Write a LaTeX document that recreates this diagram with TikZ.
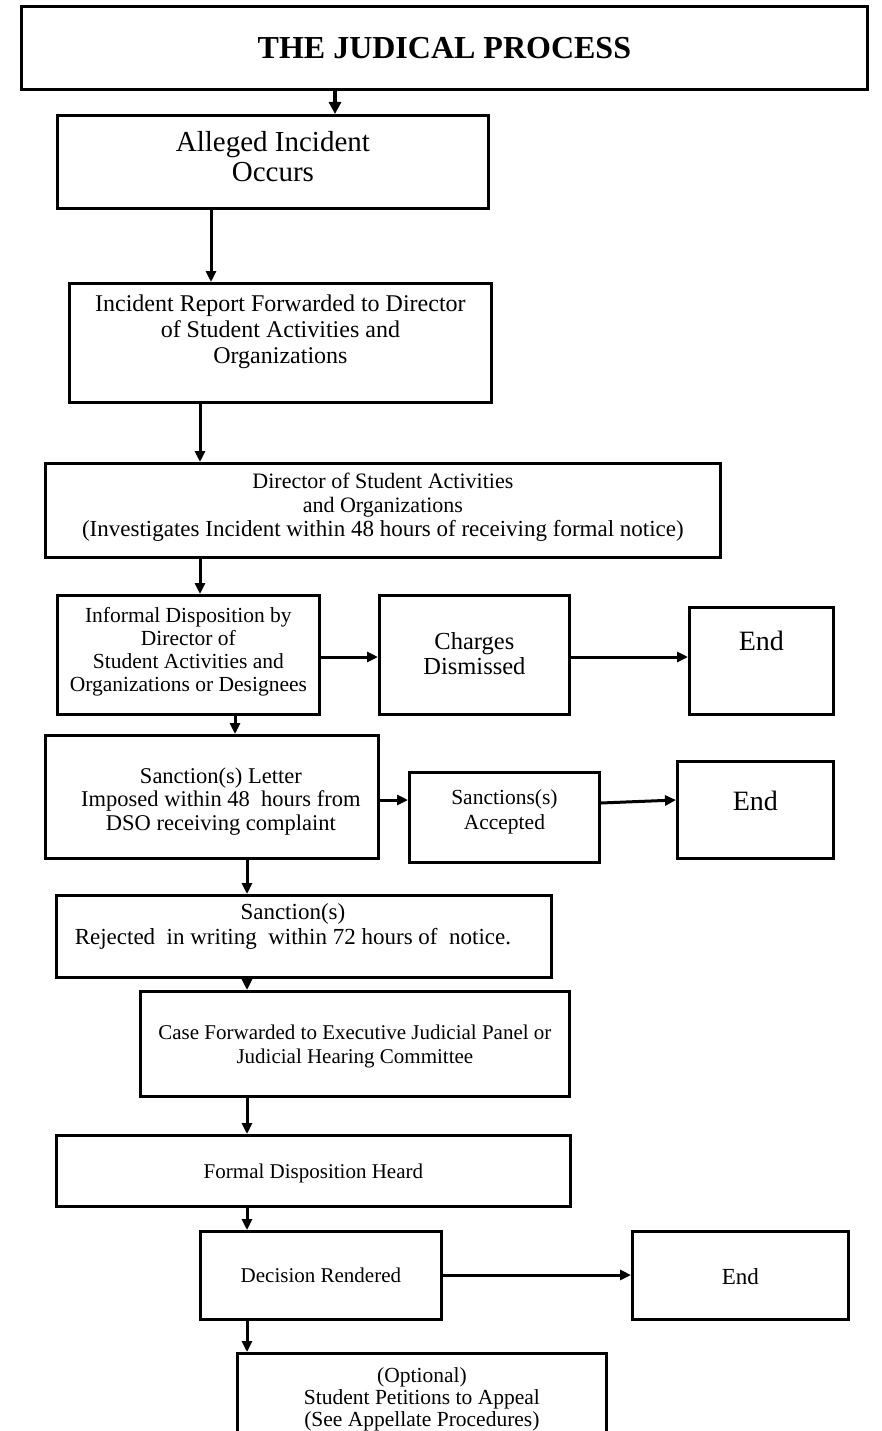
\documentclass[tikz,border=0pt]{standalone}
\usepackage{fontspec}
\setmainfont{Liberation Serif}
\usetikzlibrary{arrows.meta}
\newcommand{\fsz}[2]{\fontsize{#1}{#2}\selectfont}
\tikzset{
  frame/.style={draw, line width=2.8pt, anchor=north west, inner sep=0pt},
  txt/.style={align=center, inner sep=0pt},
  arr/.style={line width=3pt, -{Triangle[length=11pt,width=10pt]}},
  bigarr/.style={line width=4pt, -{Triangle[length=12pt,width=12pt]}},
}
\begin{document}
\begin{tikzpicture}[x=1pt,y=-1pt]
\useasboundingbox (0,0) rectangle (882,1431);
\clip (0,0) rectangle (882,1431);
% boxes
\node[frame, minimum width=846pt, minimum height=83pt] (title) at (20,5) {};
\node[frame, minimum width=431pt, minimum height=93pt] (alleged) at (56,114) {};
\node[frame, minimum width=422pt, minimum height=119pt] (incident) at (68,282) {};
\node[frame, minimum width=675pt, minimum height=94pt] (director) at (44,462) {};
\node[frame, minimum width=262pt, minimum height=119pt] (informal) at (56,594) {};
\node[frame, minimum width=190pt, minimum height=119pt] (charges) at (378,594) {};
\node[frame, minimum width=144pt, minimum height=107pt] (endA) at (688,606) {};
\node[frame, minimum width=333pt, minimum height=123pt] (sanction) at (44,734) {};
\node[frame, minimum width=190pt, minimum height=90pt] (accepted) at (408,771) {};
\node[frame, minimum width=156pt, minimum height=97pt] (endB) at (676,760) {};
\node[frame, minimum width=495pt, minimum height=82pt] (rejected) at (55,894) {};
\node[frame, minimum width=429pt, minimum height=105pt] (case) at (139,990) {};
\node[frame, minimum width=514pt, minimum height=71pt] (formal) at (55,1134) {};
\node[frame, minimum width=241pt, minimum height=88pt] (decision) at (199,1230) {};
\node[frame, minimum width=216pt, minimum height=88pt] (endC) at (631,1230) {};
\node[frame, minimum width=369pt, minimum height=120pt] (optional) at (236,1352) {};
% texts
\node[txt, font=\fsz{32}{36}\bfseries] (ttitle) at (title.center) {THE JUDICAL PROCESS};
\node[txt, font=\fsz{29}{30}] (talleged) at ([yshift=5.5pt]alleged.center) {Alleged Incident\\Occurs};
\node[txt, font=\fsz{24}{26}] (tincident) at ([yshift=11.5pt]incident.center) {Incident Report Forwarded to Director\\of Student Activities and\\Organizations};
\node[txt, font=\fsz{22}{24}] (tdirector) at ([yshift=3pt]director.center) {Director of Student Activities\\and Organizations\\{\fsz{23}{24}(Investigates Incident within 48 hours of receiving formal notice)}};
\node[txt, font=\fsz{21.5}{23}] (tinformal) at ([yshift=3.5pt]informal.center) {Informal Disposition by\\Director of\\Student Activities and\\Organizations or Designees};
\node[txt, font=\fsz{24.5}{25}] (tcharges) at ([yshift=1.5pt]charges.center) {Charges\\Dismissed};
\node[txt, font=\fsz{28}{30}] (tendA) at ([yshift=19.5pt]endA.center) {End};
\node[txt, font=\fsz{22.5}{23.5}] (tsanction) at ([xshift=9pt,yshift=-4.5pt]sanction.center) {Sanction(s) Letter\\Imposed within 48~ hours from\\DSO receiving complaint};
\node[txt, font=\fsz{21.5}{25}] (taccepted) at ([yshift=6pt]accepted.center) {Sanctions(s)\\Accepted};
\node[txt, font=\fsz{28}{30}] (tendB) at ([yshift=8.5pt]endB.center) {End};
\node[txt, font=\fsz{23}{25}] (trejected) at ([xshift=-11pt,yshift=10pt]rejected.center) {Sanction(s)\\Rejected~ in writing~ within 72 hours of~ notice.};
\node[txt, font=\fsz{21}{24}] (tcase) at ([yshift=-2.5pt]case.center) {Case Forwarded to Executive Judicial Panel or\\Judicial Hearing Committee};
\node[txt, font=\fsz{21}{24}] (tformal) at ([yshift=-2.5pt]formal.center) {Formal Disposition Heard};
\node[txt, font=\fsz{21}{24}] (tdecision) at (decision.center) {Decision Rendered};
\node[txt, font=\fsz{23}{24}] (tendC) at ([yshift=-1.5pt]endC.center) {End};
\node[txt, font=\fsz{21.5}{22}, anchor=north] (toptional) at ([yshift=-15pt]optional.north) {(Optional)\\Student Petitions to Appeal\\(See Appellate Procedures)};
% connectors
\draw[bigarr] (title.south -| 335,0) -- (alleged.north -| 335,0);
\draw[arr] (alleged.south -| 211,0) -- (incident.north -| 211,0);
\draw[arr] (incident.south -| 200,0) -- (director.north -| 200,0);
\draw[arr] (director.south -| 200,0) -- (informal.north -| 200,0);
\draw[arr] (informal.east |- 0,657) -- (charges.west |- 0,657);
\draw[arr] (charges.east |- 0,657) -- (endA.west |- 0,657);
\draw[arr] (informal.south -| 235,0) -- (sanction.north -| 235,0);
\draw[arr] (sanction.east |- 0,800) -- (accepted.west |- 0,800);
\draw[arr] (accepted.east |- 0,803) -- (endB.west |- 0,800);
\draw[arr] (sanction.south -| 247,0) -- (rejected.north -| 247,0);
\draw[arr] (rejected.south -| 247,0) -- (case.north -| 247,0);
\draw[arr] (case.south -| 247,0) -- (formal.north -| 247,0);
\draw[arr] (formal.south -| 247,0) -- (decision.north -| 247,0);
\draw[arr] (decision.east |- 0,1275) -- (endC.west |- 0,1275);
\draw[arr] (decision.south -| 247,0) -- (optional.north -| 247,0);
\end{tikzpicture}
\end{document}
